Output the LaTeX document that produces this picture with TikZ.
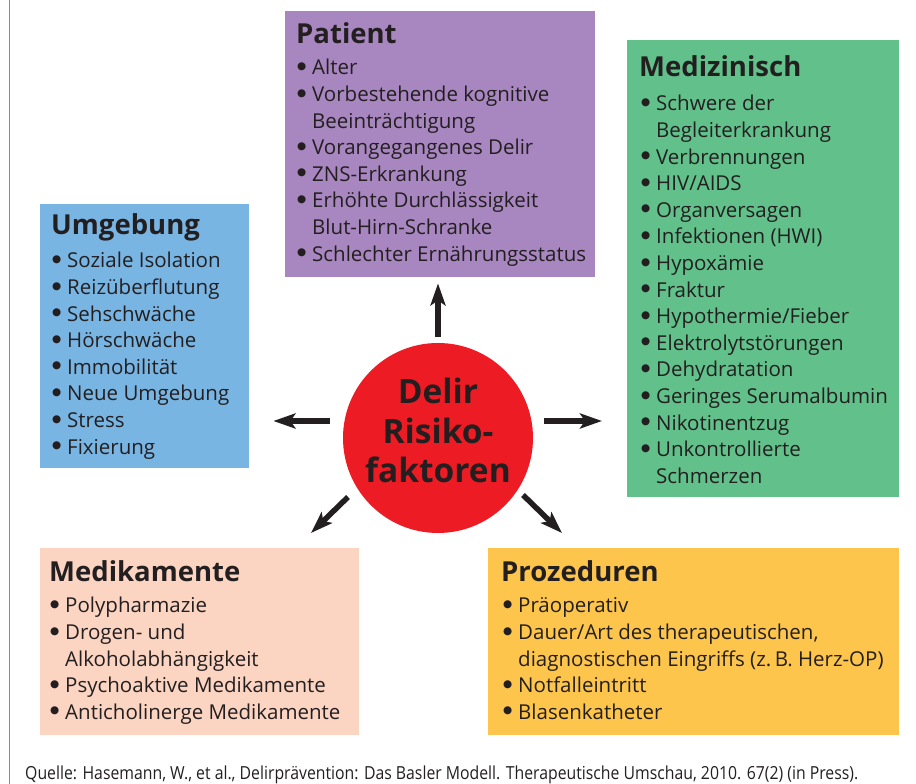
\documentclass[tikz,border=0pt]{standalone}
\usepackage{fontspec}
\setmainfont{Open Sans}
\newfontfamily\bulfont{DejaVu Sans}
\usetikzlibrary{arrows.meta,calc}
\definecolor{cpat}{HTML}{A886C0}
\definecolor{cmed}{HTML}{62C18B}
\definecolor{cumg}{HTML}{79B5E3}
\definecolor{cmedi}{HTML}{FBD4C2}
\definecolor{cproz}{HTML}{FDC54B}
\definecolor{cred}{HTML}{ED1C24}
\definecolor{ctext}{HTML}{231F20}
\definecolor{cline}{HTML}{29AAE1}
\newcommand\bitem[1]{\hbox{\hbox to 16pt{\hskip1pt\raisebox{5.4pt}{\bulfont\fontsize{10.5}{10.5}\selectfont ●}\hss}#1}}
\newcommand\bcont[1]{\hbox{\hskip16pt #1}}
\newcommand\blist[1]{\vtop{\fontsize{20.5}{26.6}\selectfont\baselineskip=26.6pt #1}}
\tikzset{
  box/.style={draw=none, inner sep=0pt, anchor=north west},
  ttl/.style={anchor=base west, inner sep=0pt, text=ctext, font=\fontsize{27.5}{32}\selectfont\bfseries},
  lst/.style={anchor=base west, inner sep=0pt, text=ctext},
  arr/.style={draw=ctext, line width=5.5pt, -{Stealth[length=22pt,width=15pt,inset=5pt]}}
}
\begin{document}
\begin{tikzpicture}[x=1pt,y=1pt]
\useasboundingbox (0,0) rectangle (916,784);
\draw[cline, line width=1.3pt] (9.3,-5) -- (9.3,790);
% boxes
\node[box, fill=cpat, minimum width=310pt, minimum height=266pt] (patient) at (285,773) {};
\node[box, fill=cmed, minimum width=272pt, minimum height=457pt] (medizin) at (627,744) {};
\node[box, fill=cumg, minimum width=209pt, minimum height=264pt] (umgebung) at (40,580) {};
\node[box, fill=cmedi, minimum width=319pt, minimum height=187pt] (medikam) at (40,236) {};
\node[box, fill=cproz, minimum width=411pt, minimum height=187pt] (prozed) at (488,236) {};
% titles
\node[ttl] (tpat) at (296,740) {Patient};
\node[ttl] (tmed) at (639,707) {Medizinisch};
\node[ttl] (tumg) at (51,549) {Umgebung};
\node[ttl] (tmedi) at (49,202) {Medikamente};
\node[ttl] (tproz) at (501,202) {Prozeduren};
% lists
\node[lst] (lpat) at (296,709) {\blist{%
\bitem{Alter}\bitem{Vorbestehende kognitive}\bcont{Beeinträchtigung}%
\bitem{Vorangegangenes Delir}\bitem{ZNS-Erkrankung}%
\bitem{Erhöhte Durchlässigkeit}\bcont{Blut-Hirn-Schranke}%
\bitem{Schlechter Ernährungsstatus}}};
\node[lst] (lmed) at (640,673) {\blist{%
\bitem{Schwere der}\bcont{Begleiterkrankung}\bitem{Verbrennungen}%
\bitem{HIV/AIDS}\bitem{Organversagen}\bitem{Infektionen (HWI)}%
\bitem{Hypoxämie}\bitem{Fraktur}\bitem{Hypothermie/Fieber}%
\bitem{Elektrolytstörungen}\bitem{Dehydratation}%
\bitem{Geringes Serumalbumin}\bitem{Nikotinentzug}%
\bitem{Unkontrollierte}\bcont{Schmerzen}}};
\node[lst] (lumg) at (51,516) {\blist{%
\bitem{Soziale Isolation}\bitem{Reizüberflutung}\bitem{Sehschwäche}%
\bitem{Hörschwäche}\bitem{Immobilität}\bitem{Neue Umgebung}%
\bitem{Stress}\bitem{Fixierung}}};
\node[lst] (lmedi) at (49,171) {\blist{%
\bitem{Polypharmazie}\bitem{Drogen- und}\bcont{Alkoholabhängigkeit}%
\bitem{Psychoaktive Medikamente}\bitem{Anticholinerge Medikamente}}};
\node[lst] (lproz) at (502,171) {\blist{%
\bitem{Präoperativ}\bitem{Dauer/Art des therapeutischen,}%
\bcont{diagnostischen Eingriffs (z.\,B. Herz-OP)}%
\bitem{Notfalleintritt}\bitem{Blasenkatheter}}};
% centre
\node[circle, fill=cred, draw=none, minimum size=190pt, inner sep=0pt] (c) at (438,346) {};
\node[anchor=base, inner sep=0pt, text=ctext] (ctxt) at (438,380) {\vtop{\fontsize{33.5}{39.5}\selectfont\bfseries\baselineskip=39.5pt
\hbox to 0pt{\hss Delir\hss}\hbox to 0pt{\hss Risiko-\hss}\hbox to 0pt{\hss faktoren\hss}}};
% arrows
\draw[arr, shorten <=6pt, shorten >=6pt] (c.north) -- (c.north |- patient.south);
\draw[arr, shorten <=13pt, shorten >=24pt] ([yshift=17pt]c.west) -- ([yshift=17pt]c.west -| umgebung.east);
\draw[arr, shorten <=11pt, shorten >=25pt] ([yshift=17pt]c.east) -- ([yshift=17pt]c.east -| medizin.west);
\coordinate (dl1) at ($(c)+(-90,-59)$);
\coordinate (dl2) at ($(c)+(-127,-95)$);
\coordinate (dr1) at ($(c)+(85,-57)$);
\coordinate (dr2) at ($(c)+(124,-95)$);
\draw[arr] (dl1) -- (dl2);
\draw[arr] (dr1) -- (dr2);
% source
\node[anchor=base west, inner sep=0pt, text=ctext] (src) at (25,4.5) {\resizebox{833pt}{\height}{\fontsize{18}{20}\selectfont Quelle: Hasemann, W., et al., Delirprävention: Das Basler Modell. Therapeutische Umschau, 2010. 67(2) (in Press).}};
\end{tikzpicture}
\end{document}
